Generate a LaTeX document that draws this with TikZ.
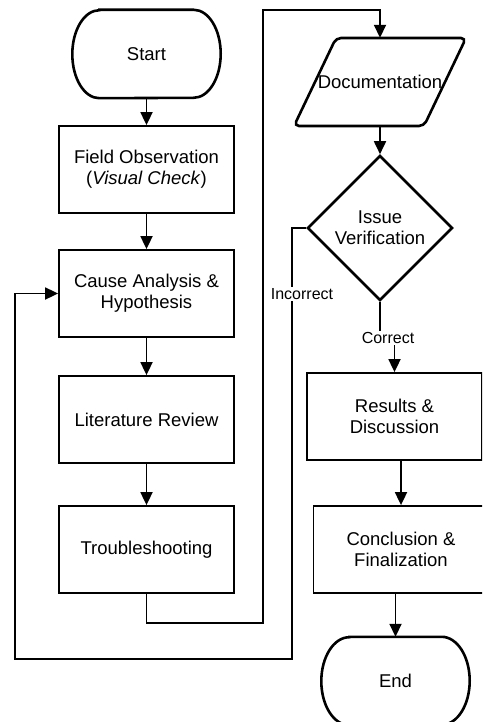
\documentclass[tikz,border=0pt]{standalone}
\usepackage{fontspec}
\setmainfont{Liberation Sans}
\usetikzlibrary{arrows.meta,positioning,shapes.geometric,calc}

\begin{document}
\begin{tikzpicture}[x=1pt,y=-1pt,
    box/.style={draw,line width=1.8pt,minimum width=175pt,minimum height=87pt,
      inner sep=0pt,align=center,font=\fontsize{18.5}{21}\selectfont},
    term/.style={minimum width=148pt,minimum height=88pt,inner sep=0pt,
      font=\fontsize{18.5}{21}\selectfont},
    termline/.style={line width=2.6pt},
    check/.style={draw,diamond,minimum width=145pt,minimum height=145pt,
      inner sep=0pt,line width=2.6pt,align=center,font=\fontsize{18.5}{21}\selectfont},
    flow/.style={line width=1.8pt,-{Triangle[length=13pt,width=12pt]}},
    tag/.style={fill=white,inner sep=1.5pt,font=\fontsize{16}{18}\selectfont}]

  \clip (0,0) rectangle (482,722);
  \fill[white] (0,0) rectangle (482,722);

  % ---- Left column ------------------------------------------
  \node[term] (start) at (146.5,54) {Start};
  \draw[termline] ([xshift=27pt]start.north west) -- ([xshift=-27pt]start.north east)
    arc[start angle=90,end angle=-90,x radius=27pt,y radius=44pt]
    -- ([xshift=27pt]start.south west)
    arc[start angle=270,end angle=90,x radius=27pt,y radius=44pt] -- cycle;
  \node[box] (field) at (146.5,169.5) {Field Observation\\(\textit{Visual Check})};
  \node[box] (cause) at (146.5,293.5) {Cause Analysis \&\\Hypothesis};
  \node[box] (lit) at (146.5,419.5) {Literature Review};
  \node[box] (trouble) at (146.5,549.5) {Troubleshooting};

  % ---- Right column -----------------------------------------
  \node[term,minimum width=172pt] (doc) at (380,82) {Documentation};
  \draw[termline,rounded corners=5pt] ($(doc.center)+(-44,-44)$) -- ++(130,0)
    -- ++(-42,88) -- ++(-130,0) -- cycle;
  \node[check] (verify) at (380,228) {Issue\\Verification};
  \node[box] (res) at (394.5,416.5) {Results \&\\Discussion};
  \node[box] (conc) at (401,549.5) {Conclusion \&\\Finalization};
  \node[term] (end) at (395.5,681) {End};
  \draw[termline] ([xshift=28pt]end.north west) -- ([xshift=-28pt]end.north east)
    arc[start angle=90,end angle=-90,x radius=28pt,y radius=44pt]
    -- ([xshift=28pt]end.south west)
    arc[start angle=270,end angle=90,x radius=28pt,y radius=44pt] -- cycle;

  % ---- Routing points ---------------------------------------
  \coordinate (busB) at (263,623);
  \coordinate (busT) at (263,10);
  \coordinate (backR) at (292,659);
  \coordinate (backL) at (15,659);
  \coordinate (jog) at (380,338);

  % ---- Connectors -------------------------------------------
  \draw[flow] (start.south) -- (field.north);
  \draw[flow] (field.south) -- (cause.north);
  \draw[flow] (cause.south) -- (lit.north);
  \draw[flow] (lit.south) -- (trouble.north);
  \draw[flow] (trouble.south) |- (busB) -- (busT) -| (doc.north);
  \draw[flow] (doc.south) -- (verify.north);
  \draw[flow] (verify.west) -| (backR) -- (backL) |- (cause.west);
  \draw[flow] (verify.south) -- (jog) -| (res.north);
  \draw[flow] (conc.north |- res.south) -- (conc.north);
  \draw[flow] (conc.south -| end.north) -- (end.north);

  % Labels
  \node[tag] (no) at (302,294) {Incorrect};
  \node[tag] (yes) at (388,338) {Correct};

\end{tikzpicture}
\end{document}
